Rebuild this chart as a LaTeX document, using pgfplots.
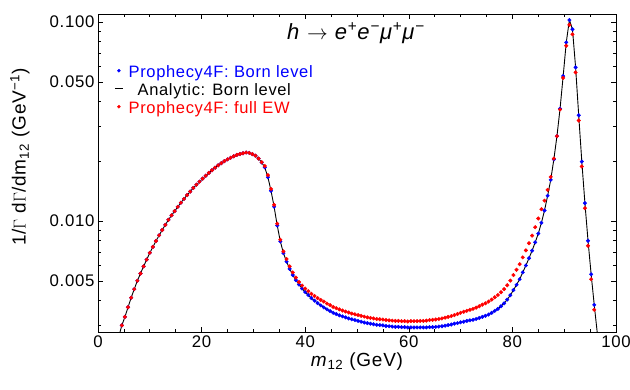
\documentclass[border=0pt]{standalone}
\usepackage{pgfplots}
\usepackage{pgfplotstable}
\pgfplotsset{compat=1.18}
\usepackage{fontspec}
\setmainfont{Liberation Sans}[LetterSpace=4]

\pgfplotsset{
  bluedot/.style={legend image code/.code={\fill[blue] (4pt,4pt) circle (1.5pt);}},
  reddot/.style={legend image code/.code={\fill[red] (4pt,4pt) circle (1.5pt);}},
  shortline/.style={legend image code/.code={\draw[black,line width=1.4pt] (0pt,4pt) -- (8pt,4pt);}},
}

\pgfplotstableread{
x born full
4.0 0.00262 0.00262
4.6 0.00299 0.00299
5.2 0.00330 0.00330
5.8 0.00369 0.00369
6.4 0.00412 0.00412
7.0 0.00455 0.00455
7.6 0.00501 0.00501
8.2 0.00545 0.00545
8.8 0.00592 0.00592
9.4 0.00640 0.00640
10.0 0.00692 0.00692
10.6 0.00742 0.00742
11.2 0.00794 0.00794
11.8 0.00848 0.00848
12.4 0.00902 0.00902
13.0 0.00957 0.00957
13.6 0.01014 0.01014
14.2 0.01068 0.01068
14.8 0.01122 0.01122
15.4 0.01178 0.01178
16.0 0.01236 0.01236
16.6 0.01292 0.01292
17.2 0.01349 0.01349
17.8 0.01406 0.01406
18.4 0.01466 0.01466
19.0 0.01522 0.01522
19.6 0.01578 0.01578
20.2 0.01634 0.01634
20.8 0.01690 0.01690
21.4 0.01745 0.01745
22.0 0.01800 0.01800
22.6 0.01853 0.01853
23.2 0.01905 0.01905
23.8 0.01953 0.01953
24.4 0.02000 0.02000
25.0 0.02040 0.02040
25.6 0.02080 0.02080
26.2 0.02115 0.02115
26.8 0.02150 0.02150
27.4 0.02172 0.02172
28.0 0.02190 0.02190
28.6 0.02210 0.02210
29.2 0.02200 0.02200
29.8 0.02170 0.02170
30.4 0.02130 0.02130
31.0 0.02060 0.02060
31.6 0.01970 0.01975
32.2 0.01860 0.01890
32.8 0.01660 0.01700
33.4 0.01420 0.01450
34.0 0.01180 0.01205
34.6 0.00950 0.00970
35.2 0.00790 0.00806
35.8 0.00690 0.00704
36.4 0.00625 0.00644
37.0 0.00575 0.00592
37.6 0.00536 0.00552
38.2 0.00505 0.00520
38.8 0.00480 0.00494
39.4 0.00458 0.00474
40.0 0.00440 0.00458
40.6 0.00425 0.00444
41.2 0.00410 0.00431
41.8 0.00398 0.00420
42.4 0.00387 0.00410
43.0 0.00377 0.00401
43.6 0.00368 0.00394
44.2 0.00360 0.00385
44.8 0.00353 0.00378
45.4 0.00346 0.00370
46.0 0.00341 0.00365
46.6 0.00336 0.00360
47.2 0.00332 0.00355
47.8 0.00328 0.00351
48.4 0.00324 0.00347
49.0 0.00321 0.00343
49.6 0.00318 0.00340
50.2 0.00315 0.00337
50.8 0.00312 0.00334
51.4 0.00309 0.00331
52.0 0.00307 0.00328
52.6 0.00305 0.00326
53.2 0.00303 0.00324
53.8 0.00301 0.00322
54.4 0.00300 0.00321
55.0 0.00299 0.00320
55.6 0.00297 0.00318
56.2 0.00296 0.00317
56.8 0.00295 0.00316
57.4 0.00294 0.00315
58.0 0.00294 0.00315
58.6 0.00293 0.00314
59.2 0.00293 0.00314
59.8 0.00292 0.00313
60.4 0.00292 0.00314
61.0 0.00292 0.00314
61.6 0.00292 0.00314
62.2 0.00292 0.00315
62.8 0.00292 0.00315
63.4 0.00292 0.00316
64.0 0.00293 0.00318
64.6 0.00293 0.00319
65.2 0.00294 0.00320
65.8 0.00295 0.00322
66.4 0.00296 0.00324
67.0 0.00298 0.00327
67.6 0.00300 0.00330
68.2 0.00302 0.00333
68.8 0.00305 0.00337
69.4 0.00307 0.00341
70.0 0.00310 0.00346
70.6 0.00312 0.00350
71.2 0.00315 0.00354
71.8 0.00317 0.00358
72.4 0.00319 0.00362
73.0 0.00322 0.00367
73.6 0.00326 0.00373
74.2 0.00330 0.00380
74.8 0.00334 0.00386
75.4 0.00339 0.00394
76.0 0.00346 0.00403
76.6 0.00354 0.00414
77.2 0.00362 0.00425
77.8 0.00373 0.00439
78.4 0.00386 0.00455
79.0 0.00403 0.00476
79.6 0.00424 0.00502
80.2 0.00450 0.00535
80.8 0.00478 0.00569
81.4 0.00510 0.00607
82.0 0.00552 0.00657
82.6 0.00598 0.00712
83.2 0.00650 0.00774
83.8 0.00710 0.00845
84.4 0.00782 0.00931
85.0 0.00865 0.01030
85.6 0.00980 0.01147
86.2 0.01130 0.01266
86.8 0.01340 0.01434
87.4 0.01610 0.01666
88.0 0.02040 0.02060
88.6 0.02670 0.02670
89.2 0.03670 0.03630
89.8 0.05350 0.05240
90.4 0.07900 0.07600
91.0 0.10230 0.09670
91.6 0.09190 0.08670
92.2 0.05920 0.05580
92.8 0.03400 0.03200
93.4 0.01990 0.01880
94.0 0.01230 0.01160
94.6 0.00796 0.00751
95.2 0.00540 0.00510
95.8 0.00379 0.00358
96.4 0.00272 0.00257
}\data

\begin{document}
\begin{tikzpicture}
\useasboundingbox (-98pt,-58pt) rectangle (532pt,332pt);
\begin{axis}[
  at={(0pt,0pt)}, anchor=south west,
  scale only axis, width=518pt, height=318pt,
  xmin=0, xmax=100,
  ymode=log, ymin=0.00277, ymax=0.1097,
  xtick={0,20,40,60,80,100}, minor x tick num=3,
  ytick={0.005,0.01,0.05,0.1}, yticklabels={0.005,0.010,0.050,0.100},
  minor ytick={0.003,0.004,0.006,0.007,0.008,0.009,0.02,0.03,0.04,0.06,0.07,0.08,0.09},
  tick align=inside, major tick length=5pt, minor tick length=3pt,
  tick style={black, line width=0.6pt},
  axis line style={black, line width=0.8pt},
  /pgf/number format/assume math mode=true,
  tick label style={font=\fontsize{16.8}{20}\selectfont},
  label style={font=\fontsize{19}{21}\selectfont},
  xlabel={\textit{m}\textsubscript{12} (GeV)},
  xlabel style={yshift=2pt},
  ylabel={1/$\Gamma$ d$\Gamma$/dm\textsubscript{12} (GeV\textsuperscript{−1})},
  ylabel style={at={(axis description cs:-0.151,0.55)}, anchor=center},
  legend cell align=left,
  legend style={draw=none, fill=none, at={(axis description cs:0.031,0.838)}, anchor=north west,
    font=\fontsize{16.5}{18}\selectfont, row sep=0pt, inner sep=0pt,
    nodes={inner sep=0pt, text height=12pt, text depth=6pt},
    /tikz/every odd column/.append style={column sep=5pt}},
]
\addplot[only marks, mark=*, mark size=1.8pt, color=blue, mark options={draw=none, fill=blue}, forget plot] table[x=x, y=born]{\data};
\addplot[only marks, mark=*, mark size=1.8pt, color=red, mark options={draw=none, fill=red}, forget plot] table[x=x, y=full]{\data};
\addplot[black, line width=0.9pt, no marks, forget plot] table[x=x, y=born]{\data};

\addlegendimage{bluedot}
\addlegendentry{\textcolor{blue}{Prophecy4F: Born level}}
\addlegendimage{shortline}
\addlegendentry{\hspace{9pt}Analytic: Born level}
\addlegendimage{reddot}
\addlegendentry{\textcolor{red}{Prophecy4F: full EW}}

\node[font=\fontsize{22}{24}\selectfont] at (rel axis cs:0.498,0.94)
  {\textit{h} $\rightarrow$ \textit{e}\textsuperscript{+}\textit{e}\textsuperscript{−}\textit{μ}\textsuperscript{+}\textit{μ}\textsuperscript{−}};
\end{axis}
\end{tikzpicture}
\end{document}
